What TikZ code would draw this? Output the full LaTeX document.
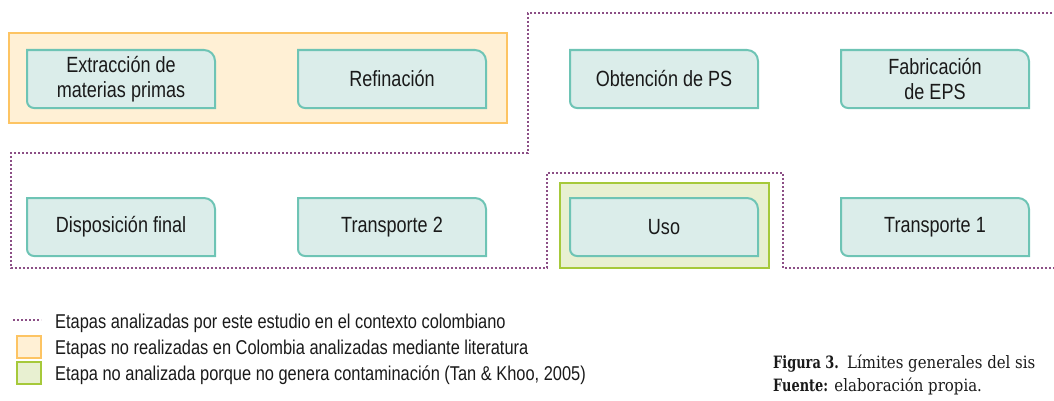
\documentclass[tikz,border=0pt]{standalone}
\usepackage{fontspec}
\setmainfont{Liberation Sans}[FakeStretch=0.82]
\newfontfamily\capfont{DejaVu Serif}[FakeStretch=0.88]
\newfontfamily\capbold{DejaVu Serif}[FakeStretch=0.76]
\definecolor{stagefill}{HTML}{DBEDEA}
\definecolor{stageline}{HTML}{6EC4B5}
\definecolor{orfill}{HTML}{FFF0D5}
\definecolor{orline}{HTML}{FDC463}
\definecolor{grfill}{HTML}{E8F0D1}
\definecolor{grline}{HTML}{A6C93A}
\definecolor{dotcol}{HTML}{8C4F86}
\definecolor{txt}{HTML}{1A1A1A}
\newcommand\stagebox[4]{%
  \draw[stageframe] (#2-94,#3+29) -- (#2+83,#3+29)
    arc[start angle=90,end angle=0,radius=11pt] -- (#2+94,#3-29)
    -- (#2-87,#3-29) arc[start angle=270,end angle=180,radius=7pt] -- cycle;
  \node[stage] (#1) at (#2,#3) {#4};}
\begin{document}
\begin{tikzpicture}[x=1pt,y=1pt,
  stage/.style={inner sep=0pt, align=center, text=txt,
    font=\fontsize{22}{25}\selectfont},
  stageframe/.style={draw=stageline, fill=stagefill, line width=2pt},
  orbox/.style={draw=orline, fill=orfill, line width=1.5pt},
  grbox/.style={draw=grline, fill=grfill, line width=1.5pt},
  dotline/.style={draw=dotcol, line width=2pt, dash pattern=on 1.6pt off 2.4pt},
  legtext/.style={anchor=base west, inner sep=0pt, text=txt,
    font=\fontsize{20}{24}\selectfont},
  captext/.style={anchor=base west, inner sep=0pt, text=txt,
    font=\capfont\fontsize{17}{20}\selectfont}]
\useasboundingbox (0,0) rectangle (1054,400);
\clip (0,0) rectangle (1054,400);
% background boxes
\draw[orbox] (9,277) rectangle (507,367);
\draw[grbox] (560,132) rectangle (769,217);
% system boundary
\coordinate (b1) at (1060,387);
\coordinate (b2) at (1060,132);
\draw[dotline] (b1) -- (528,387) -- (528,247) -- (11,247) -- (11,132)
  -- (547,132) -- (547,227) -- (783,227) -- (783,132) -- (b2);
% stages
\stagebox{ext}{121}{321}{Extracción de\\materias primas}
\stagebox{ref}{392}{321}{Refinación}
\stagebox{obt}{664}{321}{Obtención de PS}
\stagebox{fab}{935}{321}{Fabricación\\de EPS}
\stagebox{dis}{121}{173}{Disposición final}
\stagebox{tr2}{392}{173}{Transporte 2}
\stagebox{uso}{664}{173}{Uso}
\stagebox{tr1}{935}{173}{Transporte 1}
% legend
\coordinate (l1a) at (13,80);
\coordinate (l1b) at (41,80);
\draw[dotline, line width=1.5pt] (l1a) -- (l1b);
\node[legtext] (leg1) at (55,72) {Etapas analizadas por este estudio en el contexto colombiano};
\draw[orbox] (17,42) rectangle (41,64);
\node[legtext] (leg2) at (55,46) {Etapas no realizadas en Colombia analizadas mediante literatura};
\draw[grbox] (17,16) rectangle (41,38);
\node[legtext] (leg3) at (55,20) {Etapa no analizada porque no genera contaminación (Tan \& Khoo, 2005)};
% caption
\node[captext] (fig) at (773,32) {\capbold\bfseries Figura 3.};
\node[captext] (capt) at (847,32) {Límites generales del sis};
\node[captext] (src) at (773,9) {{\capbold\bfseries Fuente:} elaboración propia.};
\end{tikzpicture}
\end{document}
